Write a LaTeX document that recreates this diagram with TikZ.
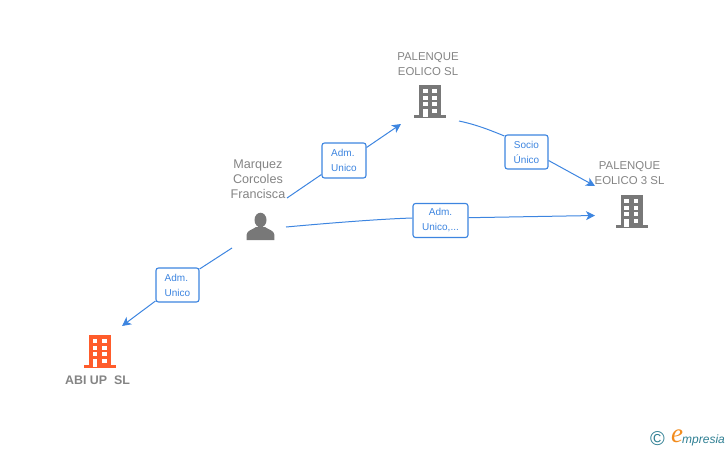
\documentclass[tikz,border=0pt]{standalone}
\usepackage{fontspec}
\setmainfont{Liberation Sans}
\newfontfamily\logoserif{Liberation Serif}
\usetikzlibrary{arrows.meta}
\definecolor{edgeblue}{HTML}{3D85E0}
\definecolor{icongray}{HTML}{787878}
\definecolor{textgray}{HTML}{848484}
\definecolor{iconorange}{HTML}{FF5C2B}
\definecolor{logoteal}{HTML}{2F7F93}
\definecolor{logoorange}{HTML}{F28C1E}
\tikzset{
  x=1pt,y=-1pt,
  conn/.style={draw=edgeblue,line width=1pt},
  arr/.style={conn,-{Stealth[length=9pt,width=9pt,inset=2.5pt]}},
  relbox/.style={draw=edgeblue,line width=1.1pt,rounded corners=2.5pt,fill=white,inner sep=0pt,align=center,
     font=\fontsize{10}{15}\selectfont,text=edgeblue},
  relboxleft/.style={relbox,align=left},
  namelabel/.style={align=center,inner sep=0pt,text=textgray,font=\fontsize{11.4}{15}\selectfont},
  personlabel/.style={namelabel,font=\fontsize{12.6}{15}\selectfont},
  building/.pic={
    \fill[pic actions] (-11,-16.5) rectangle (11,14);
    \fill[pic actions] (-16,13.5) rectangle (16,16.5);
    \foreach \yy in {-12.5,-6,0.5,7}{
      \fill[white] (-7.5,\yy) rectangle (-2.8,\yy+4);
      \fill[white] (2,\yy) rectangle (6.8,\yy+4);
    }
    \fill[white] (-7.5,7) rectangle (-2.8,15);
  }
}
\begin{document}
\begin{tikzpicture}
\useasboundingbox (0,0) rectangle (728,450);
% icons
\pic[icongray] at (430.3,101.5) {building};
\pic[icongray] at (631.5,211.5) {building};
\pic[iconorange] at (100,351.5) {building};
\fill[icongray] (260.5,220) ellipse (6 and 7.3);
\fill[icongray] (246.7,240) -- (246.7,234.5) .. controls (247,230.5) and (252,230) .. (256,227) -- (265,227) .. controls (269,230) and (274,230.5) .. (274.3,234.5) -- (274.3,240) -- cycle;
% texts
\node[namelabel] (palenque) at (428,64) {PALENQUE\\EOLICO SL};
\node[namelabel] (palenque3) at (629.5,173) {PALENQUE\\EOLICO 3 SL};
\node[personlabel] (marquez) at (258,179) {Marquez\\Corcoles\\Francisca};
\node[namelabel,font=\bfseries\fontsize{12.4}{15}\selectfont] (abi) at (97.5,380.5) {ABI UP\ \ SL};
% relation boxes
\node[relboxleft,minimum width=44pt,minimum height=35pt] (r1) at (344,160.5) {Adm.\\Unico};
\node[relbox,minimum width=43pt,minimum height=34pt] (r2) at (526.5,152) {Socio\\Único};
\node[relbox,minimum width=55pt,minimum height=34pt] (r3) at (440.5,220.5) {Adm.\\Unico,...};
\node[relboxleft,minimum width=43pt,minimum height=34pt] (r4) at (177.5,285) {Adm.\\Unico};
% free ends
\coordinate (a1) at (287,198);
\coordinate (a2) at (401,124);
\coordinate (b1) at (459,121);
\coordinate (b2) at (595,186);
\coordinate (c1) at (286,227);
\coordinate (c2) at (595,215.5);
\coordinate (d1) at (232,248);
\coordinate (d2) at (122,326);
% connectors
\draw[conn] (a1) -- (r1.west |- 0,174.5);
\draw[arr] (r1.east |- 0,147.5) -- (a2);
\draw[conn] (b1) .. controls (478,125) and (492,131) .. (r2.west |- 0,136);
\draw[arr] (r2.east |- 0,160.5) -- (b2);
\draw[conn] (c1) .. controls (330,223) and (380,219) .. (r3.west |- 0,218);
\draw[arr] (r3.east |- 0,217.7) -- (c2);
\draw[conn] (d1) -- (r4.east |- 0,269);
\draw[arr] (r4.west |- 0,301) -- (d2);
% logo
\node[inner sep=0pt,text=logoteal,font=\fontsize{20}{20}\selectfont] (copy) at (657.5,438.5) {©};
\node[inner sep=0pt,text=logoorange,font=\logoserif\itshape\fontsize{27}{27}\selectfont] (logoe) at (677,436.5) {e};
\node[inner sep=0pt,text=logoteal,font=\itshape\fontsize{12}{14}\selectfont,anchor=west] (logotext) at (682,440) {mpresia};
\end{tikzpicture}
\end{document}
